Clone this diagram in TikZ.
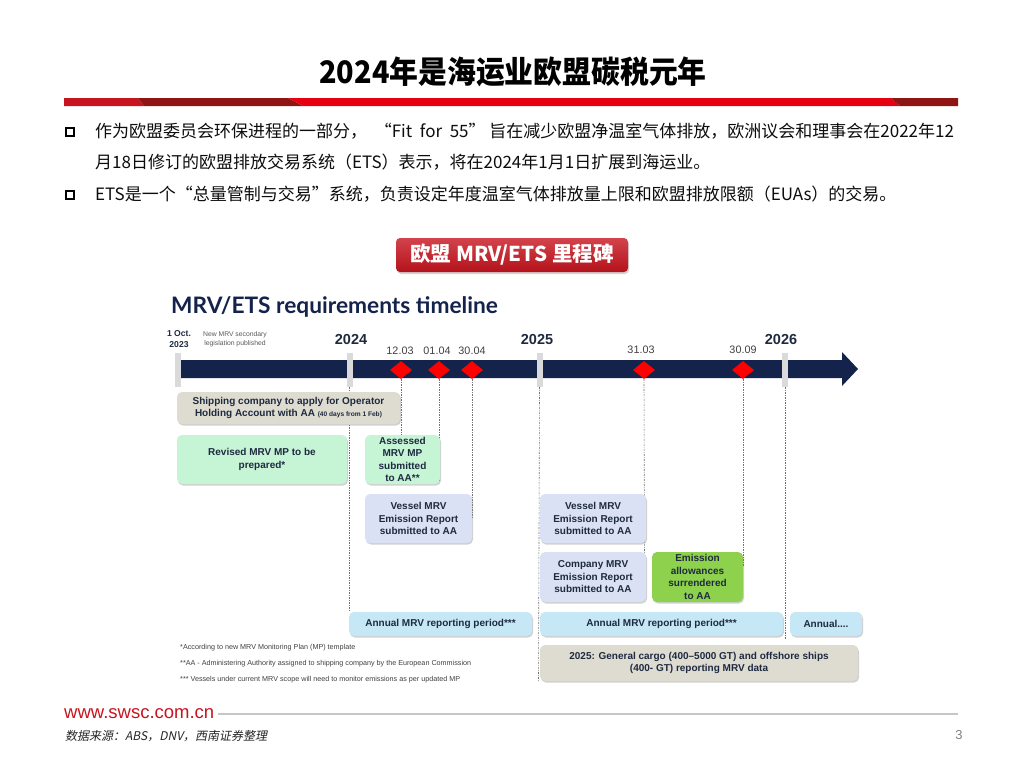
\documentclass[tikz,border=0pt]{standalone}
\usepackage{fontspec}
\setmainfont{Liberation Sans}
\newfontfamily\cjk{Noto Sans CJK SC}
\newfontfamily\cjksl[FakeSlant=0.2]{Noto Sans CJK SC}
\newfontfamily\lato{Lato}
\usetikzlibrary{shadows,shapes.geometric}
\definecolor{redA}{HTML}{C8141E}
\definecolor{redD}{HTML}{8E1513}
\definecolor{redB}{HTML}{E50012}
\definecolor{navy}{HTML}{14234B}
\definecolor{boxtxt}{HTML}{1E2A40}
\definecolor{beige}{HTML}{DEDBD0}
\definecolor{lgreen}{HTML}{C6F5D6}
\definecolor{lav}{HTML}{DAE1F5}
\definecolor{bgreen}{HTML}{8ED14C}
\definecolor{lblue}{HTML}{C6E7F5}
\definecolor{tickgrey}{HTML}{DADADA}
\tikzset{
  box/.style={rounded corners=5pt, align=center, inner sep=0pt, text=boxtxt,
    font=\bfseries\fontsize{10}{12.5}\selectfont,
    drop shadow={shadow xshift=1pt, shadow yshift=-1.5pt, opacity=0.3, fill=black!60}},
  tickmark/.style={fill=tickgrey, minimum width=6pt, minimum height=34pt, inner sep=0pt},
  dia/.style={diamond, fill=red, minimum width=22pt, minimum height=18pt, inner sep=0pt},
  yearlbl/.style={font=\bfseries\fontsize{14.5}{16}\selectfont, text=boxtxt},
  datelbl/.style={font=\fontsize{10.8}{12}\selectfont, text=black!75},
  vline/.style={draw=black!55, line width=0.6pt, dash pattern=on 2pt off 1.2pt on 0.6pt off 1.2pt},
  bodytxt/.style={anchor=west, inner sep=0pt, font=\cjk\fontsize{17}{20}\selectfont, text=black!95},
  bulletsq/.style={draw=black, line width=1.8pt, minimum size=8.5pt, inner sep=0pt},
  fnote/.style={anchor=west, inner sep=0pt, font=\fontsize{7.2}{8.5}\selectfont, text=black!75}
}
\begin{document}
\begin{tikzpicture}[x=1pt,y=-1pt]
\path[use as bounding box, fill=white] (0,0) rectangle (1024,768);

% title
\node[font=\cjk\bfseries\fontsize{31}{36}\selectfont] (title) at (513,72) {\scalebox{0.93}[1]{2024年是海运业欧盟碳税元年}};

% red bar
\fill[redA] (64,98) -- (138,98) -- (144,106) -- (64,106) -- cycle;
\fill[redD] (138,98) -- (288,98) -- (303,106) -- (144,106) -- cycle;
\fill[redB] (288,98) -- (891,98) -- (900,106) -- (303,106) -- cycle;
\fill[redD] (891,98) -- (958,98) -- (958,106) -- (900,106) -- cycle;

% bullets
\node[bulletsq] (b1) at (70,132) {};
\node[bodytxt] (t1) at (95,131) {作为欧盟委员会环保进程的一部分，\ \ “Fit\ \ for\ \ 55”\ 旨在减少欧盟净温室气体排放，欧洲议会和理事会在2022年12};
\node[bodytxt] (t2) at (95,162) {月18日修订的欧盟排放交易系统（ETS）表示，将在2024年1月1日扩展到海运业。};
\node[bulletsq] (b2) at (70,195) {};
\node[bodytxt] (t3) at (95,194) {ETS是一个“总量管制与交易”系统，负责设定年度温室气体排放量上限和欧盟排放限额（EUAs）的交易。};

% subtitle button
\node[rounded corners=4pt, top color=redA!80!white, bottom color=redA!90!black, minimum width=232pt, minimum height=34pt, inner sep=0pt,
  drop shadow={shadow xshift=1pt, shadow yshift=-2pt, opacity=0.35}, text=white,
  font=\cjk\bfseries\fontsize{20.5}{24}\selectfont] (sub) at (512,255) {欧盟 MRV/ETS 里程碑};

% heading
\node[anchor=west, inner sep=0pt, font=\lato\bfseries\fontsize{22.7}{26}\selectfont, text=navy] (head) at (171,307) {MRV/ETS requirements timeline};

% timeline bar
\fill[navy] (180,360) -- (842,360) -- (842,352) -- (858,369) -- (842,386) -- (842,378) -- (180,378) -- cycle;

\node[tickmark] (k23) at (178,370) {};
\node[tickmark] (k24) at (349.5,370) {};
\node[tickmark] (k25) at (539.5,370) {};
\node[tickmark] (k26) at (785,370) {};

\node[dia] (d1) at (401,370) {};
\node[dia] (d2) at (439,370) {};
\node[dia] (d3) at (472,370) {};
\node[dia] (d4) at (644,370) {};
\node[dia] (d5) at (743,370) {};

% labels on timeline
\node[font=\bfseries\fontsize{8.6}{10.5}\selectfont, text=boxtxt, align=center, inner sep=0pt] (oct) at (179,339) {1 Oct.\\2023};
\node[font=\fontsize{6.8}{9.5}\selectfont, text=black!65, align=center, inner sep=0pt] (newmrv) at (235,339) {New MRV secondary\\legislation published};
\node[yearlbl] (y24) at (351,340) {2024};
\node[yearlbl] (y25) at (537,340) {2025};
\node[yearlbl] (y26) at (781,340) {2026};
\node[datelbl] (l1) at (400,351) {12.03};
\node[datelbl] (l2) at (437,351) {01.04};
\node[datelbl] (l3) at (472,351) {30.04};
\node[datelbl] (l4) at (641,350) {31.03};
\node[datelbl] (l5) at (743,350) {30.09};

% boxes (positions)
\coordinate (cship) at (288.5,408);

% dotted lines (behind boxes)
\draw[vline] (k24.south) -- (349.5,612);
\draw[vline] (d1.south) -- (401,436);
\draw[vline] (d2.south) -- (439,482);
\draw[vline] (d3.south) -- (472,518);
\draw[vline] (k25.south) -- (538.5,682);
\draw[vline] (d4.south) -- (644.5,570);
\draw[vline] (d5.south) -- (743,567);
\draw[vline] (k26.south) -- (785,640);

% boxes
\node[box, fill=beige, minimum width=223pt, minimum height=32pt] (ship) at (cship)
  {Shipping company to apply for Operator\\Holding Account with AA {\fontsize{6.6}{8}\selectfont (40 days from 1 Feb)}};
\node[box, fill=lgreen, minimum width=170pt, minimum height=49pt] (revised) at (262,459.5) {Revised MRV MP to be\\prepared*};
\node[box, fill=lgreen, minimum width=75pt, minimum height=49pt] (assessed) at (402.5,459.5) {Assessed\\MRV MP\\submitted\\to AA**};
\node[box, fill=lav, minimum width=107pt, minimum height=49pt] (vessel1) at (418.5,518.5) {Vessel MRV\\Emission Report\\submitted to AA};
\node[box, fill=lav, minimum width=106pt, minimum height=49pt] (vessel2) at (593,518.5) {Vessel MRV\\Emission Report\\submitted to AA};
\node[box, fill=lav, minimum width=106pt, minimum height=50pt] (company) at (593,577) {Company MRV\\Emission Report\\submitted to AA};
\node[box, fill=bgreen, minimum width=91pt, minimum height=50pt] (emission) at (697.5,577) {Emission\\allowances\\surrendered\\to AA};
\node[box, fill=lblue, minimum width=183pt, minimum height=24pt] (annual1) at (440.5,624) {Annual MRV reporting period***};
\node[box, fill=lblue, minimum width=243pt, minimum height=24pt] (annual2) at (661.5,624) {Annual MRV reporting period***};
\node[box, fill=lblue, minimum width=72pt, minimum height=24pt] (annual3) at (826,624) {Annual....};
\node[box, fill=beige, minimum width=318pt, minimum height=36pt] (cargo) at (699,663) {2025: General cargo (400--5000 GT) and offshore ships\\(400- GT) reporting MRV data};

% footnotes
\node[fnote] (f1) at (180,648) {*According to new MRV Monitoring Plan (MP) template};
\node[fnote] (f2) at (180,664) {**AA - Administering Authority assigned to shipping company by the European Commission};
\node[fnote] (f3) at (180,680) {*** Vessels under current MRV scope will need to monitor emissions as per updated MP};

% footer
\node[anchor=west, inner sep=0pt, font=\fontsize{18.5}{21}\selectfont, text=redA] (web) at (64,714) {www.swsc.com.cn};
\draw[black!22, line width=2.5pt] (web.east) ++(4,0) -- (958,714);
\node[anchor=west, inner sep=0pt, font=\cjksl\fontsize{12}{14}\selectfont, text=black!85] (src) at (65,736) {数据来源：ABS，DNV，西南证券整理};
\node[inner sep=0pt, font=\fontsize{13}{15}\selectfont, text=black!50] (page) at (959,735) {3};
\end{tikzpicture}
\end{document}
